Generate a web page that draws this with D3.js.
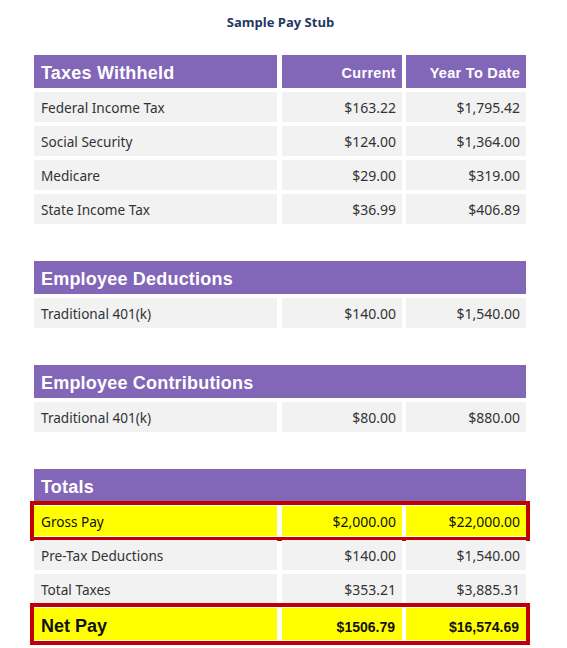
<!DOCTYPE html>
<html>
<head>
<meta charset="utf-8">
<script src="https://cdn.jsdelivr.net/npm/d3@7"></script>
<style>
  html, body { margin: 0; padding: 0; background: #fff; }
  svg { display: block; }
</style>
</head>
<body>
<svg id="chart" width="567" height="648"></svg>
<script>
// ---- data ----
const title = "Sample Pay Stub";
const columnHeaders = ["Current", "Year To Date"];
const sectionNames = ["Taxes Withheld", "Employee Deductions", "Employee Contributions", "Totals"];
const taxLabels = ["Federal Income Tax", "Social Security", "Medicare", "State Income Tax"];
const taxCurrent = ["$163.22", "$124.00", "$29.00", "$36.99"];
const taxYTD = ["$1,795.42", "$1,364.00", "$319.00", "$406.89"];
const deductionLabels = ["Traditional 401(k)"];
const deductionCurrent = ["$140.00"];
const deductionYTD = ["$1,540.00"];
const contributionLabels = ["Traditional 401(k)"];
const contributionCurrent = ["$80.00"];
const contributionYTD = ["$880.00"];
const totalLabels = ["Gross Pay", "Pre-Tax Deductions", "Total Taxes", "Net Pay"];
const totalCurrent = ["$2,000.00", "$140.00", "$353.21", "$1506.79"];
const totalYTD = ["$22,000.00", "$1,540.00", "$3,885.31", "$16,574.69"];
const highlighted = ["Gross Pay", "Net Pay"];

// ---- build ----
const sections = [
  { name: sectionNames[0], labels: taxLabels, cur: taxCurrent, ytd: taxYTD, colHeads: true },
  { name: sectionNames[1], labels: deductionLabels, cur: deductionCurrent, ytd: deductionYTD },
  { name: sectionNames[2], labels: contributionLabels, cur: contributionCurrent, ytd: contributionYTD },
  { name: sectionNames[3], labels: totalLabels, cur: totalCurrent, ytd: totalYTD }
];

const svg = d3.select("#chart");
const purple = "#8266B8", cellBg = "#F2F2F2", yellow = "#FFFF00", red = "#C00000";

// column geometry
const xCols = d3.scaleOrdinal().domain(["label", "cur", "ytd"]).range([34, 282, 406]);
const wCols = d3.scaleOrdinal().domain(["label", "cur", "ytd"]).range([243, 120, 120]);
const tableLeft = 34, tableRight = 526;

const headerH = 33, headGap = 4, rowPitch = 34, rowH = 30, sectionGap = 33;

svg.append("text")
  .attr("x", 280.5).attr("y", 27)
  .attr("text-anchor", "middle")
  .attr("font-family", "'Open Sans', 'Noto Sans', sans-serif")
  .attr("font-weight", "bold").attr("font-size", 13)
  .attr("fill", "#1F3864")
  .text(title);

let y0 = 55;
sections.forEach(sec => {
  const g = svg.append("g");
  // header
  if (sec.colHeads) {
    ["label", "cur", "ytd"].forEach(c => {
      g.append("rect").attr("x", xCols(c)).attr("y", y0)
        .attr("width", wCols(c)).attr("height", headerH).attr("fill", purple);
    });
    ["cur", "ytd"].forEach((c, i) => {
      g.append("text").attr("x", xCols(c) + wCols(c) - 6).attr("y", y0 + 23)
        .attr("text-anchor", "end")
        .attr("font-family", "'Liberation Sans', Arial, sans-serif")
        .attr("font-weight", "bold").attr("font-size", 14.5)
        .attr("letter-spacing", 0.3)
        .attr("fill", "#fff").text(columnHeaders[i]);
    });
  } else {
    g.append("rect").attr("x", tableLeft).attr("y", y0)
      .attr("width", tableRight - tableLeft).attr("height", headerH).attr("fill", purple);
  }
  g.append("text").attr("x", 41).attr("y", y0 + 24)
    .attr("font-family", "'Liberation Sans', Arial, sans-serif")
    .attr("font-weight", "bold").attr("font-size", 18)
    .attr("letter-spacing", 0.2)
    .attr("fill", "#fff").text(sec.name);

  const rowY = d3.scaleLinear().domain([0, 1]).range([y0 + headerH + headGap, y0 + headerH + headGap + rowPitch]);

  sec.labels.forEach((lab, i) => {
    const ry = rowY(i);
    const hi = highlighted.includes(lab);
    const isNet = lab === "Net Pay";
    const h = isNet ? 32 : rowH;
    ["label", "cur", "ytd"].forEach(c => {
      g.append("rect").attr("x", xCols(c)).attr("y", ry)
        .attr("width", wCols(c)).attr("height", h)
        .attr("fill", hi ? yellow : cellBg);
    });
    const textY = ry + (isNet ? 24 : 21);
    const fam = isNet ? "'Liberation Sans', Arial, sans-serif" : "'Noto Sans', 'Open Sans', sans-serif";
    const col = hi ? "#111" : "#333";
    g.append("text").attr("x", 41).attr("y", textY)
      .attr("font-family", fam)
      .attr("font-weight", isNet ? "bold" : "normal")
      .attr("font-size", isNet ? 18 : 13.6)
      .attr("fill", col).text(lab);
    [["cur", sec.cur[i]], ["ytd", sec.ytd[i]]].forEach(([c, v]) => {
      g.append("text").attr("x", xCols(c) + wCols(c) - (isNet ? 7 : 6)).attr("y", textY)
        .attr("text-anchor", "end")
        .attr("font-family", fam)
        .attr("font-weight", isNet ? "bold" : "normal")
        .attr("font-size", isNet ? 14 : 14)
        .attr("fill", col).text(v);
    });
    if (hi) {
      g.append("rect").attr("x", 32).attr("y", ry - 3)
        .attr("width", 496).attr("height", h + 6)
        .attr("fill", "none").attr("stroke", red).attr("stroke-width", 4);
    }
  });
  y0 = y0 + headerH + headGap + sec.labels.length * rowPitch + sectionGap;
});
</script>
</body>
</html>
